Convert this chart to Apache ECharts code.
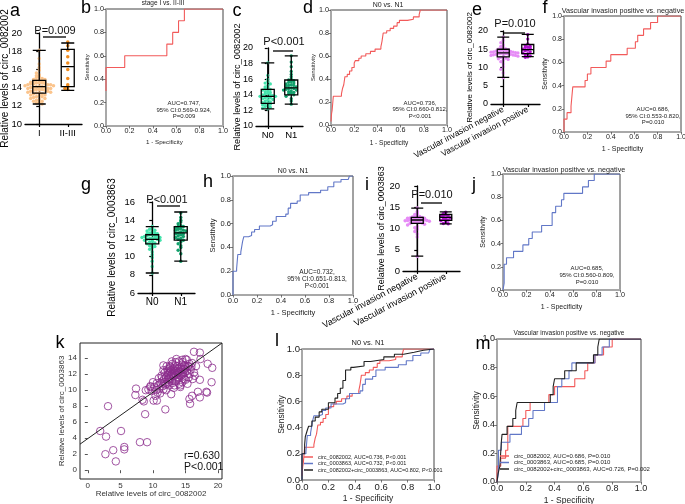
<!DOCTYPE html>
<html><head><meta charset="utf-8">
<script src="https://cdn.jsdelivr.net/npm/echarts@6/dist/echarts.min.js"></script>
<style>html,body{margin:0;padding:0;background:#fff}#c{width:685px;height:504px}</style>
</head><body><div id="c"></div>
<script>
const FONT = '"Liberation Sans", Arial, Helvetica, sans-serif';

// ---------- box-plot panels data ----------
const aCats = ['I', 'II-III'];
const aBox = [[12.2, 13.4, 14.1, 14.8, 18.1], [13.7, 14.1, 16.3, 18.2, 18.9]];
const aI = [18.1, 17.2, 16.6, 16.2, 15.9, 15.6, 15.4, 15.3, 15.2, 15.1, 15.0, 14.9, 14.9, 14.8, 14.8, 14.7, 14.7, 14.6, 14.6, 14.5, 14.5, 14.5, 14.4, 14.4, 14.4, 14.3, 14.3, 14.3, 14.2, 14.2, 14.2, 14.1, 14.1, 14.1, 14.0, 14.0, 14.0, 13.9, 13.9, 13.9, 13.8, 13.8, 13.8, 13.7, 13.7, 13.6, 13.6, 13.5, 13.5, 13.4, 13.4, 13.3, 13.3, 13.2, 13.2, 13.1, 13.0, 13.0, 12.9, 12.8, 12.8, 12.7, 12.6, 12.5, 12.5, 12.4, 12.3, 12.2];
const aII = [19.0, 18.6, 18.1, 17.4, 16.7, 16.0, 15.0, 14.3, 14.1, 13.9, 13.8];

const cCats = ['N0', 'N1'];
const cBox = [[12.2, 12.9, 13.8, 14.7, 18.1], [12.8, 14.0, 14.9, 15.9, 19.0]];
const cN0 = [18.1, 16.5, 16.0, 15.7, 15.5, 15.4, 15.2, 15.0, 14.9, 14.8, 14.7, 14.6, 14.5, 14.4, 14.3, 14.2, 14.1, 14.0, 14.0, 13.9, 13.8, 13.8, 13.7, 13.6, 13.6, 13.5, 13.4, 13.3, 13.2, 13.1, 13.0, 12.9, 12.9, 12.8, 12.7, 12.6, 12.5, 12.4, 12.3, 12.2];
const cN1 = [19.0, 18.2, 17.6, 17.0, 16.6, 16.3, 16.0, 15.9, 15.8, 15.7, 15.6, 15.5, 15.4, 15.3, 15.2, 15.2, 15.1, 15.0, 14.9, 14.8, 14.8, 14.7, 14.6, 14.6, 14.5, 14.4, 14.3, 14.2, 14.1, 14.0, 13.8, 13.5, 13.2, 12.8];

const eCats = ['Vascular invasion negative', 'Vascular invasion positive'];
const eBox = [[7.3, 12.9, 14.0, 15.0, 18.3], [13.0, 13.8, 14.9, 16.3, 19.1]];
const eNeg = [18.3, 17.5, 16.8, 16.2, 15.8, 15.5, 15.3, 15.1, 15.0, 14.9, 14.8, 14.7, 14.6, 14.6, 14.5, 14.5, 14.4, 14.3, 14.2, 14.2, 14.1, 14.0, 14.0, 13.9, 13.9, 13.8, 13.8, 13.7, 13.6, 13.6, 13.5, 13.4, 13.3, 13.3, 13.2, 13.1, 13.0, 12.8, 12.6, 12.4, 12.2, 12.0, 11.6, 11.0, 10.2, 9.5, 8.5, 7.2];
const ePos = [19.0, 17.8, 16.5, 16.0, 15.8, 15.6, 15.5, 15.2, 15.0, 14.8, 14.6, 14.3, 14.0, 13.8, 13.5, 13.2, 12.9, 12.8];

const gCats = ['N0', 'N1'];
const gBox = [[8.2, 11.4, 11.9, 12.4, 13.3], [9.5, 11.8, 12.6, 13.3, 14.9]];
const gN0 = [13.3, 13.1, 13.0, 12.9, 12.8, 12.7, 12.6, 12.6, 12.5, 12.5, 12.4, 12.4, 12.3, 12.3, 12.2, 12.2, 12.1, 12.1, 12.0, 12.0, 12.0, 11.9, 11.9, 11.8, 11.8, 11.7, 11.6, 11.5, 11.4, 11.3, 11.2, 11.1, 11.0, 10.8, 10.5, 10.2, 9.9, 9.5, 8.9, 8.2];
const gN1 = [14.8, 14.3, 14.0, 13.8, 13.6, 13.4, 13.3, 13.3, 13.2, 13.1, 13.0, 12.9, 12.9, 12.8, 12.7, 12.6, 12.5, 12.5, 12.4, 12.3, 12.2, 12.1, 12.0, 11.9, 11.8, 11.6, 11.4, 11.2, 11.0, 10.7, 10.3, 9.5];

const iCats = ['Vascular invasion negative', 'Vascular invasion positive'];
const iBox = [[3.5, 11.2, 12.0, 12.6, 14.8], [11.1, 11.9, 12.6, 13.3, 13.9]];
const iNeg = [14.8, 14.0, 13.6, 13.3, 13.1, 12.9, 12.8, 12.7, 12.6, 12.5, 12.4, 12.4, 12.3, 12.2, 12.2, 12.1, 12.1, 12.0, 12.0, 11.9, 11.9, 11.8, 11.7, 11.6, 11.6, 11.5, 11.4, 11.3, 11.2, 11.0, 10.8, 10.5, 10.2, 9.8, 9.3, 8.7, 8.0, 3.5];
const iPos = [13.8, 13.5, 13.2, 13.0, 12.9, 12.8, 12.5, 12.3, 12.2, 12.0, 11.8, 11.5, 11.2, 11.1];

// ---------- ROC curves: [1 - specificity, sensitivity] ----------
const rocB = [[0, 0.3], [0, 0.5], [0.16, 0.6], [0.52, 0.7], [0.57, 0.8], [0.62, 0.9], [0.67, 1.0], [1, 1]];
const roc82N = [[0, 0.03], [0.005, 0.1], [0.01, 0.13], [0.02, 0.25], [0.09, 0.27], [0.1, 0.32], [0.11, 0.35], [0.12, 0.42], [0.14, 0.44], [0.16, 0.47], [0.18, 0.5], [0.2, 0.54], [0.21, 0.56], [0.24, 0.58], [0.26, 0.6], [0.3, 0.62], [0.34, 0.64], [0.38, 0.66], [0.43, 0.68], [0.44, 0.73], [0.45, 0.8], [0.48, 0.82], [0.51, 0.84], [0.54, 0.86], [0.57, 0.89], [0.59, 0.91], [0.66, 0.92], [0.71, 0.94], [0.76, 0.96], [0.77, 1.0], [1, 1]];
const roc82V = [[0, 0], [0, 0.111], [0.026, 0.167], [0.06, 0.222], [0.075, 0.389], [0.18, 0.444], [0.2, 0.5], [0.23, 0.556], [0.36, 0.611], [0.4, 0.667], [0.54, 0.722], [0.61, 0.778], [0.63, 0.833], [0.68, 0.889], [0.74, 0.944], [0.8, 1], [1, 1]];
const roc63N = [[0, 0], [0, 0.2], [0.03, 0.22], [0.04, 0.34], [0.065, 0.36], [0.08, 0.45], [0.09, 0.49], [0.13, 0.5], [0.155, 0.53], [0.18, 0.55], [0.22, 0.58], [0.31, 0.59], [0.33, 0.62], [0.36, 0.66], [0.44, 0.68], [0.46, 0.73], [0.48, 0.77], [0.535, 0.79], [0.56, 0.84], [0.63, 0.86], [0.73, 0.88], [0.79, 0.91], [0.84, 0.95], [0.9, 0.97], [0.96, 0.98], [0.97, 1], [1, 1]];
const roc63V = [[0, 0], [0.01, 0.06], [0.01, 0.222], [0.03, 0.278], [0.09, 0.333], [0.17, 0.389], [0.22, 0.444], [0.25, 0.5], [0.33, 0.556], [0.42, 0.667], [0.45, 0.722], [0.5, 0.778], [0.52, 0.833], [0.68, 0.889], [0.73, 0.944], [0.78, 1], [1, 1]];
const rocCombN = [[0, 0], [0, 0.2], [0.02, 0.27], [0.025, 0.33], [0.04, 0.38], [0.05, 0.41], [0.075, 0.45], [0.1, 0.48], [0.13, 0.52], [0.15, 0.54], [0.2, 0.59], [0.25, 0.625], [0.27, 0.66], [0.29, 0.7], [0.31, 0.76], [0.33, 0.84], [0.37, 0.86], [0.39, 0.87], [0.47, 0.905], [0.52, 0.92], [0.62, 0.94], [0.7, 0.96], [0.77, 0.975], [0.85, 0.99], [0.92, 1.0], [1, 1]];
const rocCombV = [[0, 0], [0.007, 0.056], [0.02, 0.111], [0.03, 0.278], [0.035, 0.333], [0.07, 0.389], [0.11, 0.444], [0.13, 0.5], [0.14, 0.556], [0.37, 0.611], [0.39, 0.667], [0.40, 0.722], [0.47, 0.778], [0.55, 0.833], [0.67, 0.889], [0.7, 0.944], [0.71, 1], [1, 1]];

// ---------- correlation scatter ----------
const kX = [1.9, 2.8, 2.7, 3.1, 3.9, 4.3, 5.1, 5.6, 5.6, 7.3, 7.4, 8.0, 8.4, 8.8, 9.1, 9.3, 10.1, 11.9, 11.6, 14.2, 15.6, 15.7, 16.0, 16.3, 17.2, 17.2, 16.9, 17.2, 18.2, 18.3, 18.4, 19.0, 19.1, 17.3, 15.4, 15.2, 8.6, 10.6, 12.8, 9.6, 8.9,
  10.2, 10.5, 10.8, 11.0, 11.2, 11.4, 11.5, 11.7, 11.9, 12.0, 12.1, 12.2, 12.3, 12.4, 12.5, 12.6, 12.7, 12.8, 12.9, 13.0, 13.1, 13.2, 13.3, 13.4, 13.5, 13.6, 13.7, 13.8, 13.9, 14.0, 14.1, 14.2, 14.3, 14.4, 14.5, 14.6, 14.7, 14.8, 14.9, 15.0, 15.2, 15.4, 15.6, 15.8, 16.0, 16.3, 16.6, 11.3, 11.8, 12.2, 12.6, 13.0, 13.5, 14.0, 14.5, 15.0, 12.5, 13.0, 13.5, 14.0, 14.5, 15.0, 15.5, 10.9, 11.6, 12.1, 12.9, 13.2, 12.0, 11.1, 10.4, 9.8, 9.6, 10.0, 14.2, 15.3, 16.1, 13.6, 14.8, 12.7, 13.8, 12.4, 11.6, 10.7, 13.3, 14.6, 15.9, 14.3, 13.1, 12.3, 11.4, 12.8, 13.9, 14.9, 15.6, 13.4, 12.6, 11.9, 10.6, 16.4, 12.9, 13.7, 14.4, 13.2, 14.1, 12.5, 13.6, 14.7];
const kY = [4.9, 4.2, 2.0, 8.0, 2.5, 1.1, 4.9, 2.9, 2.6, 9.4, 10.2, 3.5, 8.8, 7.0, 3.5, 10.1, 8.7, 7.6, 13.1, 10.6, 8.9, 8.3, 9.3, 14.8, 14.7, 11.3, 9.8, 9.1, 9.8, 9.7, 13.3, 11.0, 12.8, 13.9, 13.0, 13.8, 8.6, 8.7, 9.5, 10.5, 10.0,
  10.4, 10.0, 10.6, 10.2, 10.9, 11.1, 10.5, 11.4, 11.0, 11.6, 10.8, 11.9, 11.3, 12.1, 11.5, 12.3, 11.8, 12.5, 11.2, 12.0, 12.6, 11.7, 12.2, 12.8, 11.9, 12.4, 13.0, 12.1, 12.7, 11.5, 12.3, 12.9, 11.8, 12.5, 13.2, 12.0, 12.7, 11.4, 12.2, 12.9, 12.4, 13.0, 12.0, 12.6, 13.4, 12.2, 13.0, 11.8, 12.2, 12.6, 13.0, 13.3, 13.5, 13.6, 13.8, 13.9, 10.6, 10.9, 11.1, 10.8, 11.0, 11.3, 11.6, 11.5, 12.5, 13.0, 13.6, 10.3, 10.0, 9.6, 9.3, 9.9, 10.4, 11.0, 10.4, 10.8, 11.4, 13.9, 13.1, 12.9, 11.6, 11.0, 10.1, 9.7, 10.6, 13.5, 12.9, 12.7, 11.8, 12.4, 11.6, 11.9, 12.3, 12.6, 13.3, 13.1, 11.4, 10.7, 10.9, 11.8, 12.1, 12.2, 12.1, 12.4, 11.9, 12.7, 11.3, 11.7];
const kFit = { intercept: 3.95, slope: 0.58 };

// ---------- build option ----------
const option = { animation: false, backgroundColor: '#fff', grid: [], xAxis: [], yAxis: [], series: [], legend: [], graphic: [] };

function txt(text, x, y, size, extra) {
  option.graphic.push({ type: 'text', x: x, y: y, silent: true, z: 100,
    style: Object.assign({ text: text, font: size + 'px ' + FONT, fill: '#111', textAlign: 'center', textVerticalAlign: 'middle', align: 'center', verticalAlign: 'middle' }, extra || {}) });
}
function seg(x1, y1, x2, y2, w) {
  option.graphic.push({ type: 'line', silent: true, z: 100, shape: { x1: x1, y1: y1, x2: x2, y2: y2 }, style: { stroke: '#000', lineWidth: w || 1.3 } });
}

function swarm(vals, idx, bin, step) {
  const counts = {};
  return vals.slice().sort((a, b) => b - a).map(v => {
    const b = Math.round(v / bin);
    const k = counts[b] = (counts[b] || 0) + 1;
    const off = (k % 2 ? 1 : -1) * Math.floor(k / 2) * step;
    return [idx + off, v];
  });
}

function boxPanel(p) {
  const gi = option.grid.length;
  option.grid.push({ left: p.l, top: p.t, width: p.w, height: p.h, containLabel: false, outerBoundsMode: 'none' });
  const xc = option.xAxis.length;
  option.xAxis.push({ type: 'category', gridIndex: gi, data: p.cats, boundaryGap: true,
    axisLine: { show: true, lineStyle: { color: '#000', width: 1.3 } },
    axisTick: { show: true, alignWithLabel: true, length: 3, lineStyle: { color: '#000', width: 1.2 } },
    axisLabel: { interval: 0, color: '#000', fontSize: p.cf, fontFamily: FONT, rotate: p.rot || 0, margin: p.cm || 4 },
    splitLine: { show: false } });
  const xv = option.xAxis.length;
  option.xAxis.push({ type: 'value', gridIndex: gi, min: -0.5, max: 1.5, show: false });
  const yi = option.yAxis.length;
  option.yAxis.push({ type: 'value', gridIndex: gi, min: p.yMin, max: p.yMax, interval: p.yInt,
    axisLine: { show: true, lineStyle: { color: '#000', width: 1.3 } },
    axisTick: { show: true, length: 3, lineStyle: { color: '#000', width: 1.2 } },
    axisLabel: { color: '#000', fontSize: p.yf, fontFamily: FONT, margin: 3 },
    splitLine: { show: false },
    name: p.yName, nameLocation: 'middle', nameGap: p.ng, nameRotate: 90, nameMoveOverlap: false,
    nameTextStyle: { fontSize: p.nf, fontFamily: FONT, color: '#000' } });
  p.points.forEach((vals, i) => {
    option.series.push({ type: 'scatter', xAxisIndex: xv, yAxisIndex: yi, symbolSize: p.sym,
      data: swarm(vals, i, p.bin, p.step), itemStyle: { color: p.colors[i], opacity: 1 }, z: 2, silent: true });
  });
  option.series.push({ type: 'boxplot', xAxisIndex: xc, yAxisIndex: yi, data: p.boxes, boxWidth: [p.bw, p.bw],
    itemStyle: { color: 'rgba(0,0,0,0)', borderColor: '#000', borderWidth: 1.3 }, z: 5, silent: true });
}

function rocPanel(p) {
  const gi = option.grid.length;
  option.grid.push({ left: p.l, top: p.t, width: p.w, height: p.h, show: true, borderColor: '#444', borderWidth: 1,
    backgroundColor: 'rgba(0,0,0,0)', containLabel: false, outerBoundsMode: 'none' });
  const mk = isY => ({ type: 'value', gridIndex: gi, min: 0, max: 1, interval: 0.2,
    axisLine: { show: true, onZero: false, lineStyle: { color: '#a8a8a8', width: 2 } },
    axisTick: { show: true, length: 2.5, lineStyle: { color: '#555', width: 0.8 } },
    axisLabel: { fontSize: p.tf, color: '#222', fontFamily: FONT, margin: 2, formatter: v => v.toFixed(1) },
    splitLine: { show: false },
    name: isY ? 'Sensitivity' : '1 - Specificity', nameLocation: 'middle', nameGap: isY ? p.yg : p.xg,
    nameRotate: isY ? 90 : 0, nameMoveOverlap: false,
    nameTextStyle: { fontSize: isY ? p.ynf : p.xnf, color: '#222', fontFamily: FONT } });
  const xi = option.xAxis.length; option.xAxis.push(mk(false));
  const yi = option.yAxis.length; option.yAxis.push(mk(true));
  p.curves.forEach(c => option.series.push({ type: 'line', name: c.name, xAxisIndex: xi, yAxisIndex: yi, data: c.data,
    step: 'end', showSymbol: false, symbol: 'none', lineStyle: { color: c.color, width: 1.1 }, itemStyle: { color: c.color },
    z: 3, silent: true }));
  if (p.title) txt(p.title, p.titleX, p.titleY, p.titleF, { fill: '#222' });
  if (p.auc) txt(p.auc, p.aucX, p.aucY, p.aucF, { fill: '#222', lineHeight: p.aucLH });
}

const RED = '#f25a5a', BLUE = '#6177c7', BLACK = '#222';
const LIGHT_OR = '#fbc48c', DARK_OR = '#f28c1e';
const LIGHT_GR = '#45e3ac', DARK_GR = '#13a06c';
const LIGHT_VI = '#e68cf6', DARK_VI = '#b310d2';
const NAME82 = 'Relative levels of circ_0082002', NAME63 = 'Relative levels of circ_0003863';

// a
boxPanel({ l: 25, t: 33, w: 57, h: 91, cats: aCats, yMin: 10, yMax: 20, yInt: 2, yName: NAME82, ng: 15, nf: 10, yf: 9.5, cf: 9.5,
  boxes: aBox, points: [aI, aII], colors: [LIGHT_OR, DARK_OR], sym: 3.5, bin: 0.35, step: 0.1, bw: 13 });
// c
boxPanel({ l: 256, t: 48, w: 47, h: 78, cats: cCats, yMin: 10, yMax: 20, yInt: 2, yName: NAME82, ng: 14, nf: 9.2, yf: 9, cf: 9.5,
  boxes: cBox, points: [cN0, cN1], colors: [LIGHT_GR, DARK_GR], sym: 3.3, bin: 0.4, step: 0.11, bw: 13 });
// e
boxPanel({ l: 491, t: 31, w: 49, h: 73, cats: eCats, yMin: 0, yMax: 20, yInt: 5, yName: NAME82, ng: 17, nf: 8, yf: 9, cf: 8.5, rot: 28, cm: 5,
  boxes: eBox, points: [eNeg, ePos], colors: [LIGHT_VI, DARK_VI], sym: 3.3, bin: 0.9, step: 0.1, bw: 12 });
// g
boxPanel({ l: 138, t: 202, w: 57, h: 91, cats: gCats, yMin: 6, yMax: 16, yInt: 2, yName: NAME63, ng: 21, nf: 10, yf: 9.5, cf: 10,
  boxes: gBox, points: [gN0, gN1], colors: [LIGHT_GR, DARK_GR], sym: 3.5, bin: 0.35, step: 0.09, bw: 13 });
// i
boxPanel({ l: 403, t: 186, w: 57, h: 85, cats: iCats, yMin: 0, yMax: 20, yInt: 5, yName: NAME63, ng: 17, nf: 9, yf: 9.5, cf: 9, rot: 28, cm: 5,
  boxes: iBox, points: [iNeg, iPos], colors: [LIGHT_VI, DARK_VI], sym: 3.5, bin: 0.8, step: 0.085, bw: 12 });

// ROC panels
rocPanel({ l: 106, t: 9, w: 117, h: 117, tf: 7.2, xg: 13, yg: 16, xnf: 6.2, ynf: 5.8,
  curves: [{ data: rocB, color: RED }], title: 'stage I vs. II-III', titleX: 163, titleY: 3, titleF: 6.5,
  auc: 'AUC=0.747,\n95% CI:0.569-0.924,\nP=0.009', aucX: 184, aucY: 110, aucF: 6, aucLH: 6.5 });
rocPanel({ l: 331, t: 10, w: 116, h: 115, tf: 7.2, xg: 15, yg: 15, xnf: 6.5, ynf: 6,
  curves: [{ data: roc82N, color: RED }], title: 'N0 vs. N1', titleX: 388, titleY: 5, titleF: 7,
  auc: 'AUC=0.736,\n95% CI:0.660-0.812,\nP<0.001', aucX: 420, aucY: 109.5, aucF: 6, aucLH: 6.5 });
rocPanel({ l: 564, t: 16, w: 117, h: 116, tf: 7, xg: 14, yg: 15.5, xnf: 7, ynf: 7,
  curves: [{ data: roc82V, color: RED }], title: 'Vascular invasion positive vs. negative', titleX: 623, titleY: 11, titleF: 7.2,
  auc: 'AUC=0.686,\n95% CI:0.553-0.820,\nP=0.010', aucX: 653, aucY: 116, aucF: 6, aucLH: 6.5 });
rocPanel({ l: 233, t: 176, w: 120, h: 119, tf: 7.5, xg: 14, yg: 16.5, xnf: 7.5, ynf: 7.5,
  curves: [{ data: roc63N, color: BLUE }], title: 'N0 vs. N1', titleX: 293, titleY: 171, titleF: 7,
  auc: 'AUC=0.732,\n95% CI:0.651-0.813,\nP<0.001', aucX: 317, aucY: 279.5, aucF: 6.5, aucLH: 7.2 });
rocPanel({ l: 503, t: 174, w: 117, h: 116, tf: 7.2, xg: 14, yg: 16.5, xnf: 7, ynf: 7,
  curves: [{ data: roc63V, color: BLUE }], title: 'Vascular invasion positive vs. negative', titleX: 564, titleY: 170, titleF: 7.2,
  auc: 'AUC=0.685,\n95% CI:0.560-0.809,\nP=0.010', aucX: 587, aucY: 275, aucF: 6, aucLH: 7 });

const L_NAMES = ['circ_0082002, AUC=0.736, P<0.001', 'circ_0003863, AUC=0.732, P<0.001', 'circ_0082002+circ_0003863, AUC=0.802, P<0.001'];
const M_NAMES = ['circ_0082002, AUC=0.686, P=0.010', 'circ_0003863, AUC=0.685, P=0.010', 'circ_0082002+circ_0003863, AUC=0.726, P=0.002'];
rocPanel({ l: 302, t: 349, w: 132, h: 131, tf: 9.5, xg: 14, yg: 16, xnf: 8.5, ynf: 8.5,
  curves: [{ data: roc82N, color: RED, name: L_NAMES[0] }, { data: roc63N, color: BLUE, name: L_NAMES[1] }, { data: rocCombN, color: BLACK, name: L_NAMES[2] }],
  title: 'N0 vs. N1', titleX: 368, titleY: 343, titleF: 7.5 });
rocPanel({ l: 497, t: 339, w: 144, h: 143, tf: 9, xg: 14, yg: 16, xnf: 8.5, ynf: 8.5,
  curves: [{ data: roc82V, color: RED, name: M_NAMES[0] }, { data: roc63V, color: BLUE, name: M_NAMES[1] }, { data: rocCombV, color: BLACK, name: M_NAMES[2] }],
  title: 'Vascular invasion positive vs. negative', titleX: 569, titleY: 333, titleF: 6.5 });

const legendBase = { orient: 'vertical', icon: 'rect', itemWidth: 9, itemHeight: 1.5, itemGap: 0.5, padding: 0, selectedMode: false,
  textStyle: { fontSize: 5.5, color: '#222', fontFamily: FONT } };
option.legend.push(Object.assign({}, legendBase, { left: 304, top: 454, data: L_NAMES }));
option.legend.push(Object.assign({}, legendBase, { left: 500, top: 453, data: M_NAMES, textStyle: { fontSize: 6, color: '#222', fontFamily: FONT } }));

// k scatter
(function () {
  const gi = option.grid.length;
  option.grid.push({ left: 80, top: 343, width: 142, height: 136, show: true, borderColor: '#222', borderWidth: 1,
    backgroundColor: 'rgba(0,0,0,0)', containLabel: false, outerBoundsMode: 'none' });
  const xMin = -1.2, xMax = 20.6;
  option.xAxis.push({ type: 'value', gridIndex: gi, min: xMin, max: xMax,
    axisLine: { show: false }, splitLine: { show: false },
    axisTick: { show: true, length: 3, customValues: [0, 5, 10, 15, 20], lineStyle: { color: '#555' } },
    axisLabel: { fontSize: 8, color: '#333', fontFamily: FONT, margin: 3, customValues: [0, 5, 10, 15, 20] },
    name: NAME82, nameLocation: 'middle', nameGap: 11, nameMoveOverlap: false, nameTextStyle: { fontSize: 8, color: '#333', fontFamily: FONT } });
  option.yAxis.push({ type: 'value', gridIndex: gi, min: -1.1, max: 15.9,
    axisLine: { show: false }, splitLine: { show: false },
    axisTick: { show: true, length: 3, customValues: [0, 2, 4, 6, 8, 10, 12, 14], lineStyle: { color: '#555' } },
    axisLabel: { fontSize: 8, color: '#333', fontFamily: FONT, margin: 3, customValues: [0, 2, 4, 6, 8, 10, 12, 14] },
    name: NAME63, nameLocation: 'middle', nameGap: 14, nameRotate: 90, nameMoveOverlap: false, nameTextStyle: { fontSize: 8, color: '#333', fontFamily: FONT } });
  const xi = option.xAxis.length - 1, yi = option.yAxis.length - 1;
  option.series.push({ type: 'scatter', xAxisIndex: xi, yAxisIndex: yi, symbol: 'circle', symbolSize: 7.5,
    data: kX.map((x, j) => [x, kY[j]]), itemStyle: { color: 'rgba(0,0,0,0)', borderColor: '#8b2c8c', borderWidth: 1 }, silent: true, z: 2 });
  option.series.push({ type: 'line', xAxisIndex: xi, yAxisIndex: yi, showSymbol: false, symbol: 'none', silent: true, z: 3,
    data: [[xMin, kFit.intercept + kFit.slope * xMin], [xMax, kFit.intercept + kFit.slope * xMax]],
    lineStyle: { color: '#222', width: 1 } });
})();

// letters
[['a', 15, 11], ['b', 86, 8], ['c', 237, 11], ['d', 308, 8], ['e', 477, 10], ['f', 545, 8], ['g', 86, 185], ['h', 208, 182],
 ['i', 367, 185], ['j', 474, 185], ['k', 60, 343], ['l', 277, 341], ['m', 483, 344]].forEach(t => txt(t[0], t[1], t[2], 18, { fill: '#000' }));

// P values with brackets
txt('P=0.009', 55, 31, 11); seg(43, 37, 66, 37);
txt('P<0.001', 284, 42, 11); seg(273, 51, 293, 51);
txt('P=0.010', 515, 24, 11); seg(503, 33, 525, 33);
txt('P<0.001', 167, 200, 11); seg(157, 206, 180, 206);
txt('P=0.010', 432, 195, 11); seg(421, 203, 442, 203);
txt('r=0.630', 184, 456, 10.5, { textAlign: 'left', align: 'left' });
txt('P<0.001', 184, 467, 10.5, { textAlign: 'left', align: 'left' });

const chart = echarts.init(document.getElementById('c'), null, { renderer: 'canvas', width: 685, height: 504 });
chart.setOption(option);
</script></body></html>
